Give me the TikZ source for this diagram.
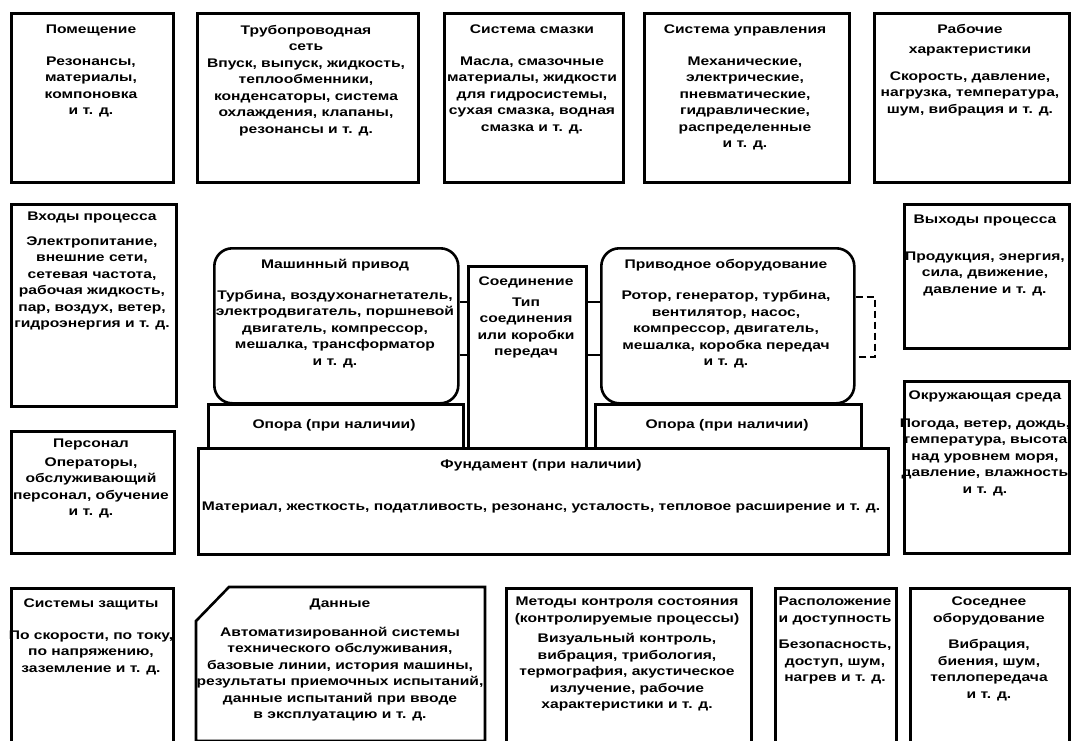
\documentclass[tikz,border=0pt]{standalone}
\usepackage{fontspec}
\setmainfont[FakeStretch=1.25]{Liberation Sans}
\usetikzlibrary{calc}
\newcommand\Bx[5]{\node[box, minimum width=#4pt, minimum height=#5pt] (#1) at (#2,#3) {};}
\begin{document}
\begin{tikzpicture}[x=1pt,y=-1pt,
  box/.style={draw, line width=2.6pt, inner sep=0pt, anchor=north west},
  rbox/.style={box, rounded corners=18pt},
  txt/.style={align=center, inner sep=0pt, anchor=north, font=\fontsize{12.5}{16.5}\selectfont\bfseries},
  link/.style={line width=1.8pt}]
\useasboundingbox (0,0) rectangle (1076,741);
% top row
\Bx{room}{10}{12}{162}{169}
\Bx{pipe}{196}{12}{221}{169}
\Bx{lube}{443}{12}{179}{169}
\Bx{ctrl}{643}{12}{205}{169}
\Bx{perf}{873}{12}{195}{169}
\node[txt] (room-t) at (91,25) {Помещение\\[15pt]Резонансы,\\материалы,\\компоновка\\и т. д.};
\node[txt] (pipe-t) at (306,25) {Трубопроводная\\сеть\\Впуск, выпуск, жидкость,\\теплообменники,\\конденсаторы, система\\охлаждения, клапаны,\\резонансы и т. д.};
\node[txt] (lube-t) at (532,25) {Система смазки\\[15pt]Масла, смазочные\\материалы, жидкости\\для гидросистемы,\\сухая смазка, водная\\смазка и т. д.};
\node[txt] (ctrl-t) at (745,25) {Система управления\\[15pt]Механические,\\электрические,\\пневматические,\\гидравлические,\\распределенные\\и т. д.};
\node[txt] (perf-t) at (970,24) {Рабочие\\[4pt]характеристики\\[10pt]Скорость, давление,\\нагрузка, температура,\\шум, вибрация и т. д.};
% middle
\Bx{inp}{10}{203}{165}{202}
\node[txt] (inp-t) at (92,212) {Входы процесса\\[8pt]Электропитание,\\внешние сети,\\сетевая частота,\\рабочая жидкость,\\пар, воздух, ветер,\\гидроэнергия и т. д.};
\node[rbox, minimum width=244pt, minimum height=155pt] (drv) at (213,247) {};
\node[txt] (drv-t) at (335,259) {Машинный привод\\[14pt]Турбина, воздухонагнетатель,\\электродвигатель, поршневой\\двигатель, компрессор,\\мешалка, трансформатор\\и т. д.};
\Bx{cpl}{467}{265}{118}{182}
\node[txt] (cpl-t) at (526,277) {Соединение\\[4pt]Тип\\соединения\\или коробки\\передач};
\node[rbox, minimum width=253pt, minimum height=155pt] (dvn) at (600,247) {};
\node[txt] (dvn-t) at (726,259) {Приводное оборудование\\[15pt]Ротор, генератор, турбина,\\вентилятор, насос,\\компрессор, двигатель,\\мешалка, коробка передач\\и т. д.};
\draw[link] (drv.east |- 0,302) -- (cpl.west |- 0,302);
\draw[link] (drv.east |- 0,355) -- (cpl.west |- 0,355);
\draw[link] (cpl.east |- 0,302) -- (dvn.west |- 0,302);
\draw[link] (cpl.east |- 0,355) -- (dvn.west |- 0,355);
\coordinate (b1) at (875,297);
\coordinate (b2) at (875,357);
\draw[link, dash pattern=on 7pt off 4pt] (dvn.east |- b1) -- (b1) -- (b2) -- (dvn.east |- b2);
\Bx{out}{903}{203}{165}{144}
\node[txt] (out-t) at (985,215) {Выходы процесса\\[20pt]Продукция, энергия,\\сила, движение,\\давление и т. д.};
\Bx{env}{903}{380}{165}{172}
\node[txt] (env-t) at (985,391) {Окружающая среда\\[11pt]Погода, ветер, дождь,\\температура, высота\\над уровнем моря,\\давление, влажность\\и т. д.};
\Bx{pers}{10}{430}{163}{122}
\node[txt] (pers-t) at (91,439) {Персонал\\[2pt]Операторы,\\обслуживающий\\персонал, обучение\\и т. д.};
\Bx{sup1}{207}{403}{255}{44}
\node[txt] (sup1-t) at (334,419) {Опора (при наличии)};
\Bx{sup2}{594}{403}{266}{44}
\node[txt] (sup2-t) at (727,419) {Опора (при наличии)};
\Bx{fnd}{197}{447}{690}{106}
\node[txt] (fnd-t) at (541,459) {Фундамент (при наличии)};
\node[txt] (fnd-b) at (541,502) {Материал, жесткость, податливость, резонанс, усталость, тепловое расширение и т. д.};
% bottom row
\Bx{prot}{10}{587}{162}{154}
\node[txt] (prot-t) at (91,599) {Системы защиты\\[15pt]По скорости, по току,\\по напряжению,\\заземление и т. д.};
\draw[line width=2.6pt, line join=miter] (229,587) -- (485,587) -- (485,741) -- (196,741) -- (196,621) -- cycle;
\node[inner sep=0pt] (data) at (340,664) {};
\node[txt] (data-t) at (340,599) {Данные\\[12pt]Автоматизированной системы\\технического обслуживания,\\базовые линии, история машины,\\результаты приемочных испытаний,\\данные испытаний при вводе\\в эксплуатацию и т. д.};
\Bx{meth}{505}{587}{245}{154}
\node[txt] (meth-t) at (627,597) {Методы контроля состояния\\(контролируемые процессы)\\[4pt]Визуальный контроль,\\вибрация, трибология,\\термография, акустическое\\излучение, рабочие\\характеристики и т. д.};
\Bx{loc}{774}{587}{121}{154}
\node[txt] (loc-t) at (835,597) {Расположение\\и доступность\\[10pt]Безопасность,\\доступ, шум,\\нагрев и т. д.};
\Bx{adj}{909}{587}{159}{154}
\node[txt] (adj-t) at (989,597) {Соседнее\\оборудование\\[10pt]Вибрация,\\биения, шум,\\теплопередача\\и т. д.};
\end{tikzpicture}
\end{document}
